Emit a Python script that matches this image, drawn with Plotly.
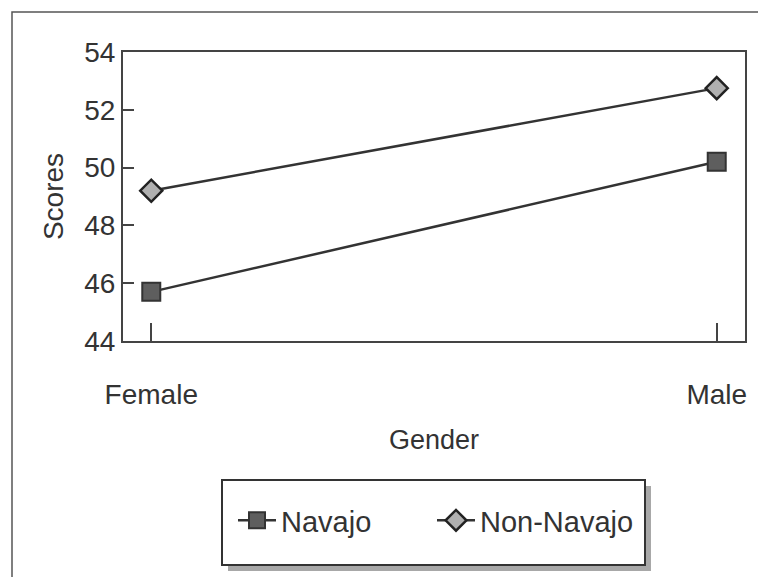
import plotly.graph_objects as go

categories = ["Female", "Male"]
navajo = [45.7, 50.2]
non_navajo = [49.2, 52.75]
y_ticks = [44, 46, 48, 50, 52, 54]

FONT = "Liberation Sans, Arial, sans-serif"
x_idx = list(range(len(categories)))

# figure canvas (page has an 8px body margin)
W, H = 758, 569
# plot area in figure pixels
L, R, T, B = 115, 737, 44, 333
def px(x):
    return (x - L) / (R - L)
def py(y):
    return (B - y) / (B - T)

fig = go.Figure()
fig.add_trace(go.Scatter(
    x=x_idx, y=navajo, name="Navajo", mode="lines+markers",
    line=dict(color="#333333", width=2.5),
    marker=dict(symbol="square", size=18, color="#5e5e5e",
                line=dict(color="#333333", width=2)),
    legend="legend",
))
fig.add_trace(go.Scatter(
    x=x_idx, y=non_navajo, name="Non-Navajo", mode="lines+markers",
    line=dict(color="#333333", width=2.5),
    marker=dict(symbol="diamond", size=17, color="#b0b0b0",
                line=dict(color="#222222", width=2.5)),
    legend="legend2",
))

shapes = [
    # outer frame
    dict(type="rect", xref="paper", yref="paper",
         x0=px(4), x1=px(800), y0=py(620), y1=py(4),
         line=dict(color="#555555", width=1.5), layer="below"),
    # legend shadow
    dict(type="rect", xref="paper", yref="paper",
         x0=px(220), x1=px(643), y0=py(563), y1=py(478),
         line=dict(width=0), fillcolor="#a8a8a8", layer="below"),
    # legend box
    dict(type="rect", xref="paper", yref="paper",
         x0=px(214), x1=px(637), y0=py(557), y1=py(472),
         line=dict(color="#333333", width=2), fillcolor="white", layer="below"),
]

legend_common = dict(orientation="h", xanchor="left", yanchor="top",
                     bgcolor="rgba(0,0,0,0)", borderwidth=0,
                     font=dict(family=FONT, size=29, color="#333333"),
                     itemwidth=38)

fig.update_layout(
    width=W, height=H,
    margin=dict(l=L, r=W - R, t=T, b=H - B),
    paper_bgcolor="white", plot_bgcolor="white",
    font=dict(family=FONT, color="#333333", size=26),
    showlegend=True,
    legend=dict(x=px(225), y=py(487), **legend_common),
    legend2=dict(x=px(424), y=py(487), **legend_common),
    shapes=shapes,
    xaxis=dict(
        range=[-0.05, 1.05], tickvals=x_idx, ticktext=categories,
        showline=True, mirror=True, linecolor="#444444", linewidth=2,
        ticks="inside", ticklen=18, tickwidth=2, tickcolor="#444444",
        showgrid=False, zeroline=False, ticklabelstandoff=27,
        tickfont=dict(family=FONT, size=28, color="#333333"),
        title=dict(text="Gender", standoff=22,
                   font=dict(family=FONT, size=27, color="#333333")),
    ),
    yaxis=dict(
        range=[44, 54], tickvals=y_ticks,
        showline=True, mirror=True, linecolor="#444444", linewidth=2,
        ticks="inside", ticklen=11, tickwidth=2, tickcolor="#444444",
        showgrid=False, zeroline=False,
        tickfont=dict(family=FONT, size=28, color="#333333"),
        title=dict(text="Scores", standoff=12,
                   font=dict(family=FONT, size=28, color="#333333")),
    ),
)

fig.write_html("out.html")
